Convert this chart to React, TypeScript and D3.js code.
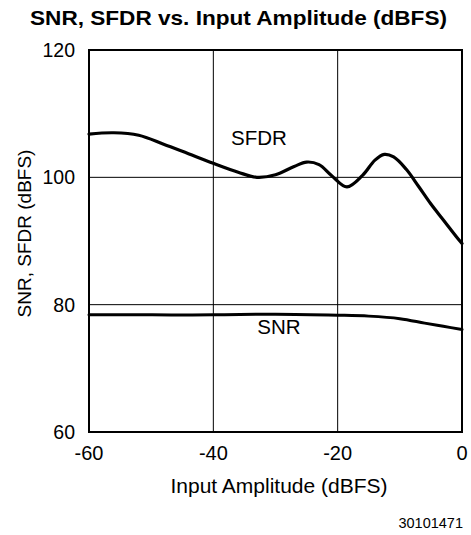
import React from "react";
import * as d3 from "d3";

const xTicks = [-60, -40, -20, 0];
const yTicks = [60, 80, 100, 120];

const sfdrX = [-60, -56, -52, -48, -44, -40, -36, -33, -30, -27, -25, -23, -21, -18.5, -16, -14, -12.5, -11, -9, -7, -5, -3, -1, 0];
const sfdrY = [106.8, 107.0, 106.6, 105.2, 103.7, 102.2, 100.8, 100.0, 100.4, 101.7, 102.4, 102.0, 100.3, 98.5, 100.3, 102.7, 103.6, 103.2, 101.3, 98.6, 95.8, 93.3, 90.8, 89.6];

const snrX = [-60, -50, -40, -30, -20, -15, -10, -6, -3, 0];
const snrY = [78.4, 78.4, 78.4, 78.5, 78.35, 78.2, 77.8, 77.1, 76.6, 76.1];

const FONT = "'Liberation Sans', Arial, Helvetica, sans-serif";

export default function App() {
  const W = 471, H = 535;
  const left = 89, right = 462, top = 50, bottom = 432;
  const x = d3.scaleLinear().domain([-60, 0]).range([left, right]);
  const y = d3.scaleLinear().domain([60, 120]).range([bottom, top]);
  const line = d3.line<[number, number]>()
    .x(d => x(d[0]))
    .y(d => y(d[1]))
    .curve(d3.curveCatmullRom.alpha(0.5));
  const sfdr = line(sfdrX.map((v, i) => [v, sfdrY[i]] as [number, number])) || "";
  const snr = line(snrX.map((v, i) => [v, snrY[i]] as [number, number])) || "";

  return (
    <svg width={W} height={H} style={{ position: "absolute", left: 0, top: 0, background: "#fff" }} fontFamily={FONT}>
      <text x={238.5} y={25} textAnchor="middle" fontSize={21} fontWeight="bold" textLength={417} lengthAdjust="spacingAndGlyphs">SNR, SFDR vs. Input Amplitude (dBFS)</text>
      {xTicks.slice(1, -1).map(t => (
        <line key={"gx" + t} x1={x(t)} x2={x(t)} y1={top} y2={bottom} stroke="#000" strokeWidth={1} />
      ))}
      {yTicks.slice(1, -1).map(t => (
        <line key={"gy" + t} x1={left} x2={right} y1={y(t)} y2={y(t)} stroke="#000" strokeWidth={1} />
      ))}
      <rect x={left} y={top} width={right - left} height={bottom - top} fill="none" stroke="#000" strokeWidth={2} />
      <path d={sfdr} fill="none" stroke="#000" strokeWidth={3.2} strokeLinecap="round" />
      <path d={snr} fill="none" stroke="#000" strokeWidth={3} strokeLinecap="round" />
      {xTicks.map(t => (
        <text key={"tx" + t} x={x(t)} y={460} textAnchor="middle" fontSize={20}>{t}</text>
      ))}
      {yTicks.map(t => (
        <text key={"ty" + t} x={75} y={y(t)} dy="0.36em" textAnchor="end" fontSize={19.5}>{t}</text>
      ))}
      <text x={279} y={493} textAnchor="middle" fontSize={21}>Input Amplitude (dBFS)</text>
      <text transform={`translate(31,233.5) rotate(-90)`} textAnchor="middle" fontSize={19}>SNR, SFDR (dBFS)</text>
      <text x={259} y={145} textAnchor="middle" fontSize={20.5}>SFDR</text>
      <text x={279} y={334} textAnchor="middle" fontSize={20.5}>SNR</text>
      <text x={463} y={528} textAnchor="end" fontSize={14.5}>30101471</text>
    </svg>
  );
}
